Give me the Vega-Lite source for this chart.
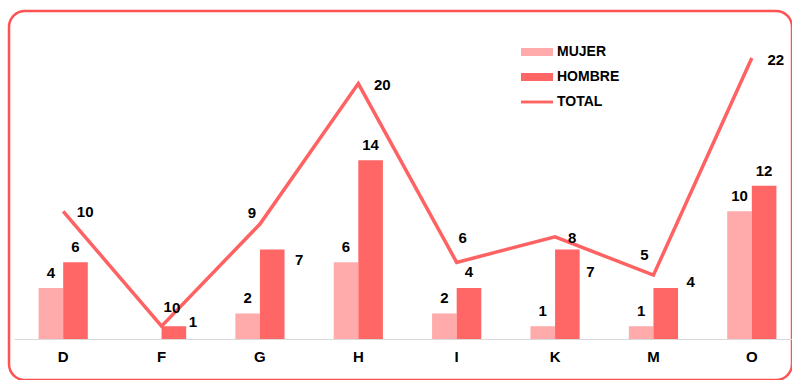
{
  "$schema": "https://vega.github.io/schema/vega-lite/v6.json",
  "width": 783,
  "height": 369,
  "autosize": {"type": "none"},
  "padding": {"left": 9, "top": 11, "right": 0, "bottom": 0},
  "config": {
    "font": "Liberation Sans",
    "view": {"stroke": "#ff5252", "strokeWidth": 2.5, "cornerRadius": 16}
  },
  "data": {
    "values": [
      {"cat": "D", "serie": "MUJER", "value": 4},
      {"cat": "F", "serie": "MUJER", "value": 0},
      {"cat": "G", "serie": "MUJER", "value": 2},
      {"cat": "H", "serie": "MUJER", "value": 6},
      {"cat": "I", "serie": "MUJER", "value": 2},
      {"cat": "K", "serie": "MUJER", "value": 1},
      {"cat": "M", "serie": "MUJER", "value": 1},
      {"cat": "O", "serie": "MUJER", "value": 10},
      {"cat": "D", "serie": "HOMBRE", "value": 6},
      {"cat": "F", "serie": "HOMBRE", "value": 1},
      {"cat": "G", "serie": "HOMBRE", "value": 7},
      {"cat": "H", "serie": "HOMBRE", "value": 14},
      {"cat": "I", "serie": "HOMBRE", "value": 4},
      {"cat": "K", "serie": "HOMBRE", "value": 7},
      {"cat": "M", "serie": "HOMBRE", "value": 4},
      {"cat": "O", "serie": "HOMBRE", "value": 12},
      {"cat": "D", "serie": "TOTAL", "value": 10},
      {"cat": "F", "serie": "TOTAL", "value": 1},
      {"cat": "G", "serie": "TOTAL", "value": 9},
      {"cat": "H", "serie": "TOTAL", "value": 20},
      {"cat": "I", "serie": "TOTAL", "value": 6},
      {"cat": "K", "serie": "TOTAL", "value": 8},
      {"cat": "M", "serie": "TOTAL", "value": 5},
      {"cat": "O", "serie": "TOTAL", "value": 22}
    ]
  },
  "encoding": {
    "x": {
      "field": "cat",
      "type": "nominal",
      "sort": ["D", "F", "G", "H", "I", "K", "M", "O"],
      "scale": {"range": [5, 792], "paddingInner": 0.5, "paddingOuter": 0.25},
      "axis": {
        "title": null,
        "orient": "bottom",
        "offset": -41,
        "ticks": false,
        "domainColor": "#d9d9d9",
        "domainWidth": 1,
        "labelFontSize": 15,
        "labelFontWeight": "bold",
        "labelColor": "#000000",
        "labelPadding": 10,
        "labelAngle": 0
      }
    },
    "y": {
      "field": "value",
      "type": "quantitative",
      "scale": {"domain": [-3.21, 25.68], "nice": false, "zero": false},
      "axis": null
    }
  },
  "layer": [
    {
      "transform": [{"filter": "datum.serie !== 'TOTAL'"}],
      "mark": {"type": "bar"},
      "encoding": {
        "y": {"field": "value", "type": "quantitative"},
        "y2": {"datum": 0},
        "xOffset": {"field": "serie", "type": "nominal", "sort": ["MUJER", "HOMBRE"]},
        "color": {
          "field": "serie",
          "type": "nominal",
          "scale": {"domain": ["MUJER", "HOMBRE", "TOTAL"], "range": ["#ffabab", "#ff6666", "#ff6262"]},
          "legend": {
            "title": null,
            "orient": "none",
            "legendX": 520,
            "legendY": 33,
            "direction": "vertical",
            "symbolSize": 256,
            "rowPadding": 10,
            "labelOffset": 12,
            "labelFontSize": 14,
            "labelFontWeight": "bold",
            "labelColor": "#000000",
            "padding": 0,
            "encode": {
              "symbols": {
                "update": {
                  "shape": {"signal": "datum.value === 'TOTAL' ? 'M-2,-0.18L2,-0.18L2,0.18L-2,0.18Z' : 'M-2,-0.5L2,-0.5L2,0.5L-2,0.5Z'"},
                  "fill": {"scale": "color", "field": "value"},
                  "strokeWidth": {"value": 0},
                  "opacity": {"value": 1},
                  "fillOpacity": {"value": 1}
                }
              }
            }
          }
        }
      }
    },
    {
      "transform": [{"filter": "datum.serie === 'TOTAL'"}],
      "mark": {"type": "line", "strokeWidth": 3.5, "strokeJoin": "miter"},
      "encoding": {
        "color": {"field": "serie", "type": "nominal"}
      }
    },
    {
      "transform": [{"filter": "datum.serie === 'TOTAL'"}],
      "mark": {
        "type": "text",
        "fontSize": 15,
        "fontWeight": "bold",
        "color": "#000000",
        "align": "center",
        "baseline": "middle",
        "dx": {"expr": "[22,6,-8,24,6,17,-9,24][indexof(['D','F','G','H','I','K','M','O'], datum.cat)]"},
        "dy": {"expr": "[1,-19,-11,1,-24,1,-20,2][indexof(['D','F','G','H','I','K','M','O'], datum.cat)]"}
      },
      "encoding": {
        "text": {"field": "value", "type": "quantitative"}
      }
    },
    {
      "transform": [{"filter": "datum.serie === 'MUJER'"}],
      "mark": {
        "type": "text",
        "fontSize": 15,
        "fontWeight": "bold",
        "color": "#000000",
        "align": "center",
        "baseline": "middle",
        "dx": {"expr": "datum.cat === 'F' ? 27 : 0"},
        "dy": {"expr": "datum.cat === 'F' ? -31 : -15"}
      },
      "encoding": {
        "xOffset": {"field": "serie", "type": "nominal", "sort": ["MUJER", "HOMBRE"], "scale": {"domain": ["MUJER", "HOMBRE"]}},
        "text": {"field": "value", "type": "quantitative"}
      }
    },
    {
      "transform": [{"filter": "datum.serie === 'HOMBRE'"}],
      "mark": {
        "type": "text",
        "fontSize": 15,
        "fontWeight": "bold",
        "color": "#000000",
        "align": "center",
        "baseline": "middle",
        "dx": {"expr": "[0,19,27,0,0,23,25,0][indexof(['D','F','G','H','I','K','M','O'], datum.cat)]"},
        "dy": {"expr": "[-15,-4,10,-15,-16,22,-6,-15][indexof(['D','F','G','H','I','K','M','O'], datum.cat)]"}
      },
      "encoding": {
        "xOffset": {"field": "serie", "type": "nominal", "sort": ["MUJER", "HOMBRE"], "scale": {"domain": ["MUJER", "HOMBRE"]}},
        "text": {"field": "value", "type": "quantitative"}
      }
    }
  ]
}
